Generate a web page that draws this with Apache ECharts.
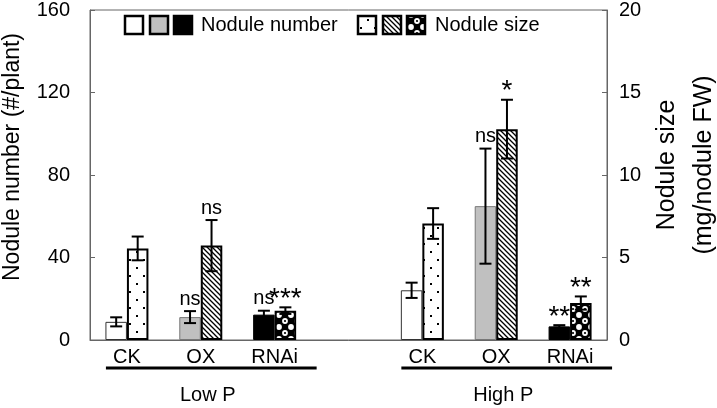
<!DOCTYPE html>
<html>
<head>
<meta charset="utf-8">
<script src="https://cdn.jsdelivr.net/npm/echarts@6/dist/echarts.min.js"></script>
<style>html,body{margin:0;padding:0;background:#fff;}#c{width:717px;height:408px;}</style>
</head>
<body>
<div id="c"></div>
<script>
// ---- data ----
const categories = ['CK', 'OX', 'RNAi', '', 'CK', 'OX', 'RNAi'];
const groupLabels = ['Low P', 'High P'];
const noduleNumber = [8.8, 11.1, 12.3, null, 24.1, 64.9, 6.6];
const noduleNumberErr = [2.2, 2.9, 1.9, null, 3.7, 27.9, 0.6];
const noduleSize = [5.55, 5.72, 1.78, null, 7.06, 12.78, 2.24];
const noduleSizeErr = [0.72, 1.55, 0.2, null, 0.93, 1.78, 0.4];
const numberSig = ['', 'ns', 'ns', '', '', 'ns', '**'];
const sizeSig = ['', 'ns', '***', '', '', '*', '**'];
const leftTicks = [0, 40, 80, 120, 160];
const rightTicks = [0, 5, 10, 15, 20];
const leftName = 'Nodule number (#/plant)';
const rightName = ['Nodule size', '(mg/nodule FW)'];
const legendNames = ['Nodule number', 'Nodule size'];

// ---- styling ----
const FONT = "'Liberation Sans', Arial, sans-serif";
const BAR_W = 21.5;
const AXIS_COLOR = '#666';

function makeCanvas(w, h, draw) {
  const c = document.createElement('canvas');
  c.width = w; c.height = h;
  draw(c.getContext('2d'), w, h);
  return c;
}
const dotCanvas = makeCanvas(14, 16, (ctx, w, h) => {
  ctx.fillStyle = '#fff'; ctx.fillRect(0, 0, w, h);
  ctx.fillStyle = '#000';
  ctx.fillRect(3, 3, 2, 2);
  ctx.fillRect(10, 11, 2, 2);
});
const hatchCanvas = makeCanvas(5, 5, (ctx, w, h) => {
  ctx.fillStyle = '#fff'; ctx.fillRect(0, 0, w, h);
  ctx.strokeStyle = '#000'; ctx.lineWidth = 1.3;
  ctx.beginPath();
  ctx.moveTo(-1, -1); ctx.lineTo(w + 1, h + 1);
  ctx.moveTo(-1, h - 1); ctx.lineTo(1, h + 1);
  ctx.moveTo(w - 1, -1); ctx.lineTo(w + 1, 1);
  ctx.stroke();
});
const checkCanvas = makeCanvas(12, 12, (ctx, w, h) => {
  ctx.fillStyle = '#000'; ctx.fillRect(0, 0, w, h);
  ctx.fillStyle = '#fff';
  ctx.beginPath(); ctx.arc(3, 3, 2.9, 0, Math.PI * 2); ctx.fill();
  ctx.beginPath(); ctx.arc(9, 9, 2.9, 0, Math.PI * 2); ctx.fill();
  ctx.fillStyle = '#000';
  ctx.beginPath(); ctx.arc(9, 9, 1.1, 0, Math.PI * 2); ctx.fill();
});
const pat = c => ({ image: c, repeat: 'repeat' });

const numberFills = ['#ffffff', '#c0c0c0', '#000000'];
const numberBorders = ['#333', '#777', '#000'];
const sizeFills = [pat(dotCanvas), pat(hatchCanvas), pat(checkCanvas)];

function genoIndex(i) { return i % 4; } // 0 CK, 1 OX, 2 RNAi

const numberData = noduleNumber.map((v, i) => v == null ? '-' : ({
  value: v,
  itemStyle: { color: numberFills[genoIndex(i)], borderColor: numberBorders[genoIndex(i)], borderWidth: 1 }
}));
const sizeData = noduleSize.map((v, i) => v == null ? '-' : ({
  value: v,
  itemStyle: { color: sizeFills[genoIndex(i)], borderColor: '#000', borderWidth: 2 }
}));

function errData(vals, errs) {
  const out = [];
  vals.forEach((v, i) => { if (v != null) out.push([i, v, errs[i]]); });
  return out;
}
function errRenderer(sigArr, dx) {
  return function (params, api) {
    const x = api.value(0), v = api.value(1), e = api.value(2);
    const hi = api.coord([x, v + e]);
    const lo = api.coord([x, v - e]);
    const cx = hi[0] + dx;
    const sig = sigArr[x];
    const children = [
      { type: 'line', shape: { x1: cx, y1: hi[1], x2: cx, y2: lo[1] }, style: { stroke: '#000', lineWidth: 2 } },
      { type: 'line', shape: { x1: cx - 6, y1: hi[1], x2: cx + 6, y2: hi[1] }, style: { stroke: '#000', lineWidth: 2 } },
      { type: 'line', shape: { x1: cx - 6, y1: lo[1], x2: cx + 6, y2: lo[1] }, style: { stroke: '#000', lineWidth: 2 } }
    ];
    if (sig) {
      const isStar = sig.indexOf('*') >= 0;
      children.push({
        type: 'text',
        style: {
          text: sig, x: cx, y: hi[1] - (isStar ? 8 : 12),
          align: 'center', verticalAlign: 'middle',
          font: (isStar ? '28px ' : '20px ') + FONT, fill: '#000'
        }
      });
    }
    return { type: 'group', children };
  };
}

const chart = echarts.init(document.getElementById('c'), null, { renderer: 'canvas' });

const option = {
  animation: false,
  backgroundColor: '#fff',
  grid: { left: 90, right: 110, top: 3, bottom: 68, show: true, borderColor: AXIS_COLOR, borderWidth: 1, containLabel: false },
  xAxis: {
    type: 'category',
    data: categories,
    axisLine: { show: true, lineStyle: { color: AXIS_COLOR, width: 1 } },
    axisTick: { show: false },
    axisLabel: { color: '#000', fontSize: 20, fontFamily: FONT, margin: 7, interval: 0 },
    splitLine: { show: false }
  },
  yAxis: [
    {
      type: 'value', position: 'left',
      min: leftTicks[0], max: leftTicks[leftTicks.length - 1], interval: leftTicks[1] - leftTicks[0],
      axisLine: { show: true, lineStyle: { color: AXIS_COLOR } },
      axisTick: { show: true, inside: true, length: 5, lineStyle: { color: AXIS_COLOR } },
      axisLabel: { color: '#000', fontSize: 20, fontFamily: FONT, margin: 20 },
      splitLine: { show: false }
    },
    {
      type: 'value', position: 'right',
      min: rightTicks[0], max: rightTicks[rightTicks.length - 1], interval: rightTicks[1] - rightTicks[0],
      axisLine: { show: true, lineStyle: { color: AXIS_COLOR } },
      axisTick: { show: true, inside: true, length: 5, lineStyle: { color: AXIS_COLOR } },
      axisLabel: { color: '#000', fontSize: 20, fontFamily: FONT, margin: 12 },
      splitLine: { show: false }
    }
  ],
  series: [
    { name: legendNames[0], type: 'bar', yAxisIndex: 0, data: numberData, barWidth: BAR_W, barGap: '0%', z: 2 },
    { name: legendNames[1], type: 'bar', yAxisIndex: 1, data: sizeData, barWidth: BAR_W, barGap: '0%', z: 2 },
    { type: 'custom', yAxisIndex: 0, data: errData(noduleNumber, noduleNumberErr), renderItem: errRenderer(numberSig, -BAR_W / 2), z: 5, silent: true },
    { type: 'custom', yAxisIndex: 1, data: errData(noduleSize, noduleSizeErr), renderItem: errRenderer(sizeSig, BAR_W / 2), z: 6, silent: true }
  ]
};
chart.setOption(option);

// ---- decorations: legend, axis names, group lines ----
const graphics = [];
const legY = 16;
const sq = 18;
[125, 150, 174].forEach((x, k) => graphics.push({
  type: 'rect', shape: { x, y: legY, width: sq, height: sq },
  style: { fill: numberFills[k], stroke: '#000', lineWidth: 2.5 }
}));
[358, 383, 407].forEach((x, k) => graphics.push({
  type: 'rect', shape: { x, y: legY, width: sq, height: sq },
  style: { fill: sizeFills[k], stroke: '#000', lineWidth: 2.5 }
}));
graphics.push({ type: 'text', style: { text: legendNames[0], x: 201, y: legY + sq / 2, verticalAlign: 'middle', font: '20px ' + FONT, fill: '#000' } });
graphics.push({ type: 'text', style: { text: legendNames[1], x: 435, y: legY + sq / 2, verticalAlign: 'middle', font: '20px ' + FONT, fill: '#000' } });

graphics.push({ type: 'text', x: 13, y: 157, rotation: Math.PI / 2,
  style: { text: leftName, x: 0, y: 0, align: 'center', verticalAlign: 'middle', font: '23px ' + FONT, fill: '#000' } });
graphics.push({ type: 'text', x: 667, y: 165, rotation: Math.PI / 2,
  style: { text: rightName[0], x: 0, y: 0, align: 'center', verticalAlign: 'middle', font: '25px ' + FONT, fill: '#000' } });
graphics.push({ type: 'text', x: 704, y: 165, rotation: Math.PI / 2,
  style: { text: rightName[1], x: 0, y: 0, align: 'center', verticalAlign: 'middle', font: '25px ' + FONT, fill: '#000' } });

const baseY = chart.convertToPixel({ yAxisIndex: 0 }, 0);
const groups = [[0, 2], [4, 6]];
groups.forEach((g, k) => {
  const x1 = chart.convertToPixel({ xAxisIndex: 0 }, g[0]) - 21;
  const x2 = chart.convertToPixel({ xAxisIndex: 0 }, g[1]) + 42;
  const xm = chart.convertToPixel({ xAxisIndex: 0 }, g[0] + 1) + 7;
  graphics.push({ type: 'line', shape: { x1, y1: baseY + 28, x2, y2: baseY + 28 }, style: { stroke: '#000', lineWidth: 3 } });
  graphics.push({ type: 'text', style: { text: groupLabels[k], x: xm, y: baseY + 55, align: 'center', verticalAlign: 'middle', font: '20px ' + FONT, fill: '#000' } });
});
chart.setOption({ graphic: graphics });
</script>
</body>
</html>
